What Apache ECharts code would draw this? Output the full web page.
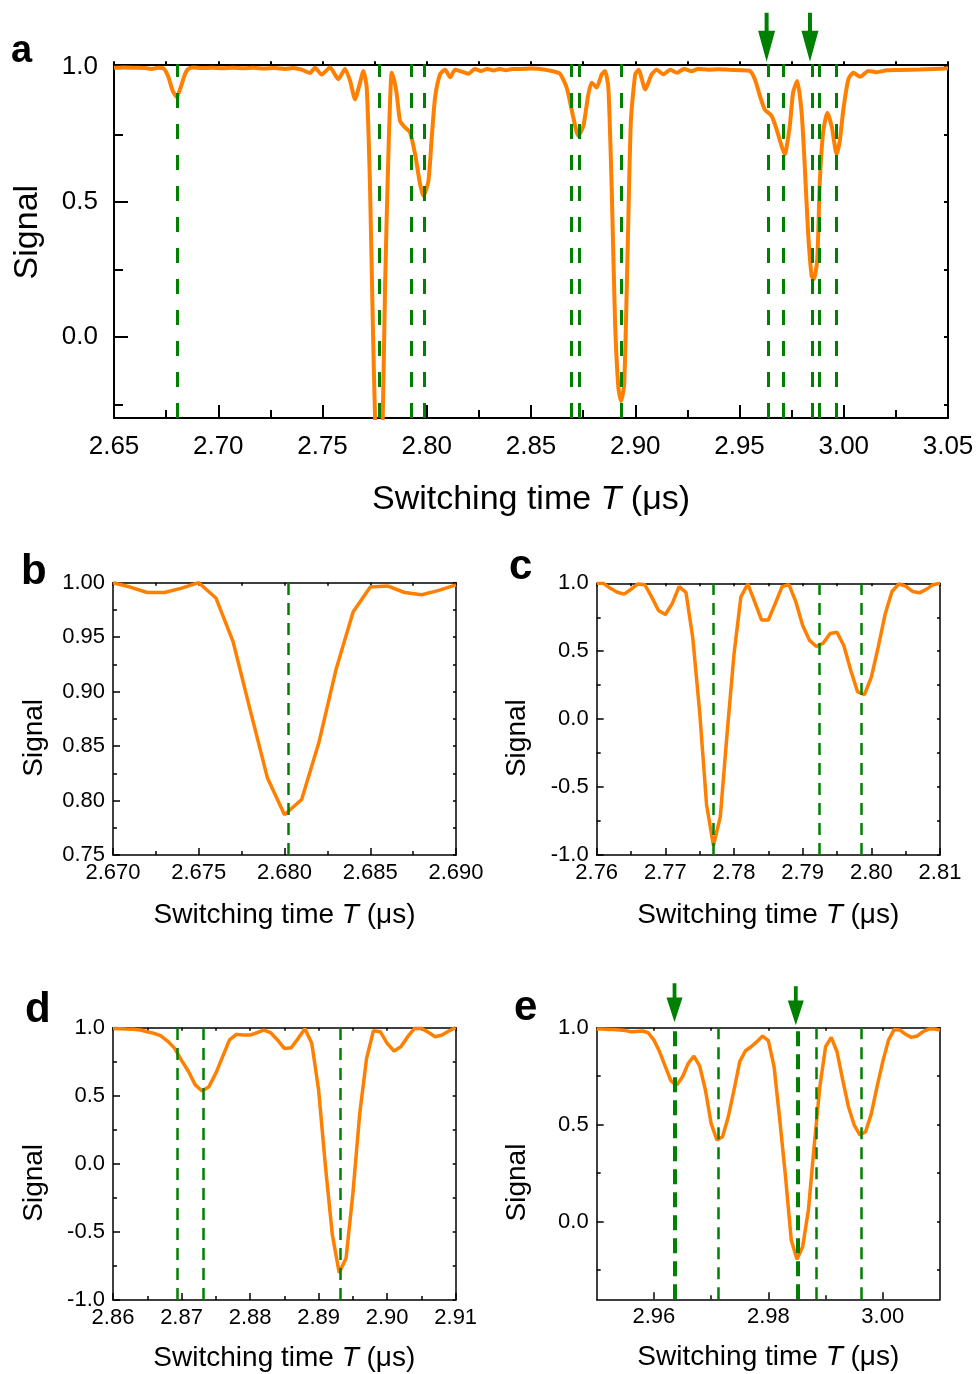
<!DOCTYPE html>
<html><head><meta charset="utf-8">
<script src="https://cdn.jsdelivr.net/npm/echarts@6/dist/echarts.min.js"></script>
<style>html,body{margin:0;padding:0;background:#fff}#chart{width:977px;height:1374px}</style>
</head><body><div id="chart"></div>
<script>
// ---------------- DATA ----------------
// Panel a (overview scan)
const aTime = [2.650, 2.655, 2.660, 2.665, 2.668, 2.671, 2.6737, 2.676, 2.678, 2.6801, 2.682, 2.684, 2.6856, 2.688, 2.692, 2.697, 2.702, 2.707, 2.712, 2.717, 2.722, 2.727, 2.732, 2.736, 2.740, 2.744, 2.7464, 2.7496, 2.7536, 2.7576, 2.7608, 2.7632, 2.7656, 2.7676, 2.7696, 2.7712, 2.7728, 2.7741, 2.7752, 2.7765, 2.7778, 2.7789, 2.7800, 2.7816, 2.7832, 2.7844, 2.7856, 2.7872, 2.7896, 2.7920, 2.7944, 2.7968, 2.7984, 2.8008, 2.8024, 2.8040, 2.8064, 2.8088, 2.8112, 2.8136, 2.8160, 2.8200, 2.8230, 2.8260, 2.8290, 2.8320, 2.8350, 2.8380, 2.8410, 2.8450, 2.8500, 2.8543, 2.8600, 2.8639, 2.8671, 2.8703, 2.8727, 2.8751, 2.8775, 2.8791, 2.8815, 2.8839, 2.8855, 2.8871, 2.8887, 2.8903, 2.8919, 2.8932, 2.8947, 2.8963, 2.8979, 2.9000, 2.9016, 2.9048, 2.9079, 2.9103, 2.9135, 2.9168, 2.9200, 2.9235, 2.9270, 2.9300, 2.9350, 2.9400, 2.9450, 2.9502, 2.9550, 2.9574, 2.9598, 2.9621, 2.9654, 2.9678, 2.9702, 2.9717, 2.9741, 2.9757, 2.9777, 2.9798, 2.9813, 2.9829, 2.9846, 2.9857, 2.9873, 2.9885, 2.9901, 2.9921, 2.9942, 2.9966, 2.9982, 2.9998, 3.0022, 3.0046, 3.0078, 3.0118, 3.0158, 3.0206, 3.0270, 3.0366, 3.0430, 3.0500];
const aSignal = [0.997, 0.998, 0.997, 0.996, 0.993, 0.997, 0.995, 0.965, 0.915, 0.889, 0.925, 0.972, 0.993, 0.998, 0.996, 0.997, 0.995, 0.997, 0.995, 0.997, 0.994, 0.996, 0.993, 0.996, 0.990, 0.978, 0.997, 0.972, 0.998, 0.955, 0.993, 0.950, 0.880, 0.930, 0.985, 0.924, 0.554, 0.060, -0.300, -0.550, -0.550, -0.300, 0.184, 0.677, 0.979, 0.950, 0.900, 0.800, 0.776, 0.757, 0.677, 0.566, 0.522, 0.578, 0.739, 0.887, 0.973, 0.990, 0.962, 0.990, 0.985, 0.975, 0.993, 0.985, 0.993, 0.987, 0.993, 0.988, 0.993, 0.993, 0.994, 0.993, 0.985, 0.975, 0.924, 0.813, 0.744, 0.781, 0.899, 0.942, 0.924, 0.973, 0.985, 0.924, 0.553, 0.059, -0.187, -0.237, -0.175, 0.306, 0.800, 0.973, 0.990, 0.917, 0.973, 0.990, 0.973, 0.990, 0.979, 0.993, 0.984, 0.993, 0.990, 0.992, 0.990, 0.988, 0.985, 0.954, 0.893, 0.843, 0.819, 0.769, 0.707, 0.677, 0.781, 0.905, 0.948, 0.831, 0.633, 0.387, 0.226, 0.214, 0.288, 0.572, 0.757, 0.831, 0.781, 0.677, 0.732, 0.843, 0.954, 0.979, 0.964, 0.985, 0.981, 0.988, 0.989, 0.991, 0.993, 0.995];

// Panel b
const bTime = [2.670, 2.671, 2.672, 2.673, 2.674, 2.675, 2.676, 2.677, 2.678, 2.679, 2.680, 2.681, 2.682, 2.683, 2.684, 2.685, 2.686, 2.687, 2.688, 2.689, 2.690];
const bSignal = [1.000, 0.996, 0.991, 0.991, 0.995, 1.000, 0.986, 0.946, 0.883, 0.821, 0.787, 0.801, 0.853, 0.920, 0.973, 0.996, 0.997, 0.991, 0.989, 0.993, 0.998];

// Panel c
const cTime = [2.760, 2.761, 2.762, 2.763, 2.764, 2.765, 2.766, 2.767, 2.768, 2.769, 2.770, 2.771, 2.772, 2.773, 2.774, 2.775, 2.776, 2.777, 2.778, 2.779, 2.780, 2.781, 2.782, 2.783, 2.784, 2.785, 2.786, 2.787, 2.788, 2.789, 2.790, 2.791, 2.792, 2.793, 2.794, 2.795, 2.796, 2.797, 2.798, 2.799, 2.800, 2.801, 2.802, 2.803, 2.804, 2.805, 2.806, 2.807, 2.808, 2.809, 2.810];
const cSignal = [1.0, 1.0, 0.963, 0.934, 0.92, 0.956, 0.995, 0.99, 0.90, 0.80, 0.77, 0.85, 0.975, 0.934, 0.595, 0.05, -0.63, -0.93, -0.72, -0.10, 0.48, 0.90, 0.995, 0.865, 0.73, 0.73, 0.85, 0.975, 0.99, 0.865, 0.69, 0.58, 0.535, 0.56, 0.63, 0.64, 0.54, 0.36, 0.20, 0.18, 0.31, 0.53, 0.77, 0.94, 0.995, 0.98, 0.94, 0.93, 0.955, 0.99, 1.0];

// Panel d
const dTime = [2.860, 2.861, 2.862, 2.863, 2.864, 2.865, 2.866, 2.867, 2.868, 2.869, 2.870, 2.871, 2.872, 2.873, 2.874, 2.875, 2.876, 2.877, 2.878, 2.879, 2.880, 2.881, 2.882, 2.883, 2.884, 2.885, 2.886, 2.887, 2.888, 2.889, 2.890, 2.891, 2.892, 2.893, 2.894, 2.895, 2.896, 2.897, 2.898, 2.899, 2.900, 2.901, 2.902, 2.903, 2.904, 2.905, 2.906, 2.907, 2.908, 2.909, 2.910];
const dSignal = [0.995, 0.993, 0.99, 0.988, 0.983, 0.97, 0.958, 0.94, 0.90, 0.848, 0.76, 0.68, 0.58, 0.535, 0.567, 0.665, 0.787, 0.91, 0.951, 0.946, 0.946, 0.963, 0.983, 0.963, 0.91, 0.848, 0.853, 0.92, 0.993, 0.885, 0.542, -0.02, -0.52, -0.80, -0.694, -0.217, 0.371, 0.775, 0.978, 0.971, 0.885, 0.829, 0.86, 0.934, 0.995, 0.995, 0.966, 0.934, 0.946, 0.976, 1.0];

// Panel e
const eTime = [2.950, 2.951, 2.952, 2.953, 2.954, 2.955, 2.956, 2.957, 2.958, 2.959, 2.960, 2.961, 2.962, 2.963, 2.964, 2.965, 2.966, 2.967, 2.968, 2.969, 2.970, 2.971, 2.972, 2.973, 2.974, 2.975, 2.976, 2.977, 2.978, 2.979, 2.980, 2.981, 2.982, 2.983, 2.984, 2.985, 2.986, 2.987, 2.988, 2.989, 2.990, 2.991, 2.992, 2.993, 2.994, 2.995, 2.996, 2.997, 2.998, 2.999, 3.000, 3.001, 3.002, 3.003, 3.004, 3.005, 3.006, 3.007, 3.008, 3.009, 3.010];
const eSignal = [0.993, 0.993, 0.991, 0.991, 0.988, 0.985, 0.979, 0.981, 0.983, 0.974, 0.936, 0.876, 0.799, 0.725, 0.704, 0.747, 0.816, 0.854, 0.802, 0.679, 0.507, 0.421, 0.438, 0.541, 0.679, 0.825, 0.881, 0.902, 0.928, 0.957, 0.933, 0.799, 0.524, 0.232, -0.094, -0.194, -0.129, 0.06, 0.387, 0.696, 0.902, 0.95, 0.876, 0.73, 0.593, 0.498, 0.447, 0.464, 0.557, 0.696, 0.825, 0.936, 0.991, 0.988, 0.966, 0.95, 0.957, 0.979, 0.993, 0.993, 0.988];

// Green dashed marker positions (µs)
const markersA = [2.6802, 2.7770, 2.7924, 2.7986, 2.8694, 2.8731, 2.8931, 2.9636, 2.9712, 2.9851, 2.9884, 2.9963];
const markersB = [2.6802];
const markersC = [2.7770, 2.7924, 2.7986];
const markersD = [2.8694, 2.8731, 2.8931];
const markersE = [2.9636, 2.9712, 2.9851, 2.9884, 2.9963];
const boldE = [2.9636, 2.9851];
// Arrow positions (µs)
const arrowsA = [2.9630, 2.9838];
const arrowsE = [2.9636, 2.9848];

// Custom tick values
const aYTicks = [0, 0.5, 1.0];
const aYMinor = [-0.25, 0.25, 0.75];
const eYTicks = [0, 0.5, 1.0];
const eYMinor = [-0.25, 0.25, 0.75];
const eXTicks = [2.96, 2.98, 3.00];
const eXMinor = [2.97, 2.99];

// ---------------- STYLE / BUILD ----------------
const FONT = "'Liberation Sans', Arial, Helvetica, sans-serif";
const BLACK = '#000';
const ORANGE = '#ff7f00';
const GREEN = '#008000';
const XNAME = '{n|Switching time }{i|T}{n| (\u03bcs)}';
const ARROW = 'path://M6.5,0 L10.5,0 L10.5,18 L17,18 L8.5,49 L0,18 L6.5,18 Z';
const HIDDEN_LINE = { show: false, onZero: false };

function fmt(d) { return v => (Math.abs(v) < 1e-9 ? 0 : v).toFixed(d); }
function zip(t, s) { return t.map((x, i) => [x, s[i]]); }

function base(g, pos, min, max, lw) {
  return {
    type: 'value', gridIndex: g, position: pos, min: min, max: max,
    axisLine: { show: true, onZero: false, lineStyle: { color: BLACK, width: lw } },
    splitLine: { show: false }, minorSplitLine: { show: false },
    nameMoveOverlap: false
  };
}
function tick(len, lw, inside, custom) {
  const t = { show: true, inside: inside, length: len, lineStyle: { color: BLACK, width: lw } };
  if (custom) t.customValues = custom;
  return t;
}
function minor(len, lw) {
  return { show: true, splitNumber: 2, length: len, lineStyle: { color: BLACK, width: lw } };
}
function label(fs, margin, dec, custom) {
  const l = { show: true, fontSize: fs, margin: margin, color: BLACK, fontFamily: FONT, formatter: fmt(dec) };
  if (custom) l.customValues = custom;
  return l;
}
function xNameStyle(fs) {
  return { fontSize: fs, color: BLACK, fontFamily: FONT,
    rich: { n: { fontSize: fs, color: BLACK, fontFamily: FONT },
            i: { fontSize: fs, color: BLACK, fontFamily: FONT, fontStyle: 'italic' } } };
}

const grids = [
  { left: 114, top: 64.3, width: 834, height: 353.7 },
  { left: 113, top: 582.7, width: 343, height: 272.3 },
  { left: 596.7, top: 583.3, width: 343.3, height: 271.7 },
  { left: 113, top: 1027.7, width: 342.7, height: 272.3 },
  { left: 596.7, top: 1027.7, width: 343.3, height: 271.6 }
].map(g => Object.assign({ outerBoundsMode: 'none', containLabel: false }, g));

const xAxes = [], yAxes = [], series = [];

function addStandardPanel(g, xr, yr, xdec, ydec, t, s, markers, opt) {
  const xi = xAxes.length;
  xAxes.push(Object.assign(base(g, 'bottom', xr[0], xr[1], opt.lw), {
    interval: xr[2],
    axisTick: tick(opt.tick, opt.lw, true), minorTick: minor(opt.minor, opt.lw),
    axisLabel: label(opt.fs, opt.xMargin, xdec),
    name: XNAME, nameLocation: 'middle', nameGap: opt.xNameGap, nameTextStyle: xNameStyle(opt.nameFs)
  }));
  xAxes.push(Object.assign(base(g, 'top', xr[0], xr[1], opt.lw), {
    interval: xr[2],
    axisTick: tick(opt.topTick, opt.lw, opt.topInside), minorTick: minor(opt.topTick, opt.lw),
    axisLabel: { show: false }
  }));
  const yi = yAxes.length;
  yAxes.push(Object.assign(base(g, 'left', yr[0], yr[1], opt.lw), {
    interval: yr[2],
    axisTick: tick(opt.tick, opt.lw, true), minorTick: minor(opt.minor, opt.lw),
    axisLabel: label(opt.fs, opt.yMargin, ydec),
    name: 'Signal', nameLocation: 'middle', nameGap: opt.yNameGap,
    nameTextStyle: { fontSize: opt.nameFs, color: BLACK, fontFamily: FONT, padding: opt.yNamePad }
  }));
  yAxes.push(Object.assign(base(g, 'right', yr[0], yr[1], opt.lw), {
    interval: yr[2],
    axisTick: tick(3, opt.lw, true), minorTick: minor(3, opt.lw),
    axisLabel: { show: false }
  }));
  series.push(lineSeries(xi, yi, t, s, markers, opt));
}

function lineSeries(xi, yi, t, s, markers, opt) {
  return {
    type: 'line', xAxisIndex: xi, yAxisIndex: yi, data: zip(t, s),
    showSymbol: false, symbol: 'none', smooth: opt.smooth || false,
    lineStyle: { color: ORANGE, width: opt.lineW }, z: 2,
    markLine: {
      silent: true, symbol: ['none', 'none'], label: { show: false }, z: 5, precision: 6,
      lineStyle: { color: GREEN, width: opt.dashW, type: opt.dash, opacity: 1 },
      emphasis: { disabled: true },
      data: markers.map(v => opt.bold && opt.bold.indexOf(v) >= 0
        ? { xAxis: v, lineStyle: { color: GREEN, width: 4, type: [15, 8] } }
        : { xAxis: v })
    },
    markPoint: opt.arrows ? {
      silent: true, symbol: ARROW, symbolSize: opt.arrowSize, z: 6, precision: 6,
      itemStyle: { color: GREEN }, label: { show: false },
      data: opt.arrows.map((v, i) => ({ coord: [v, opt.arrowY], symbolOffset: [0, opt.arrowOff[i]] }))
    } : undefined
  };
}

// ---- Panel a ----
(function () {
  const g = 0, lw = 2;
  const xi = xAxes.length;
  xAxes.push(Object.assign(base(g, 'bottom', 2.65, 3.05, lw), {
    interval: 0.05,
    axisTick: tick(13, lw, true), minorTick: minor(8, lw),
    axisLabel: label(26, 16, 2),
    name: XNAME, nameLocation: 'middle', nameGap: 65, nameTextStyle: xNameStyle(34)
  }));
  xAxes.push(Object.assign(base(g, 'top', 2.65, 3.05, lw), {
    interval: 0.05,
    axisTick: tick(3, lw, false), minorTick: minor(3, lw),
    axisLabel: { show: false }
  }));
  const yi = yAxes.length;
  yAxes.push(Object.assign(base(g, 'left', -0.3, 1.01, lw), {
    axisTick: tick(14, lw, true, aYTicks),
    axisLabel: label(26, 16, 1, aYTicks),
    name: 'Signal', nameLocation: 'middle', nameGap: 69,
    nameTextStyle: { fontSize: 34, color: BLACK, fontFamily: FONT, padding: [0, 0, 0, 18] }
  }));
  yAxes.push(Object.assign(base(g, 'left', -0.3, 1.01, lw), {
    axisLine: HIDDEN_LINE,
    axisTick: tick(9, lw, true, aYMinor), axisLabel: { show: false }
  }));
  yAxes.push(Object.assign(base(g, 'right', -0.3, 1.01, lw), {
    axisTick: tick(4, lw, true, aYTicks.concat(aYMinor)), axisLabel: { show: false }
  }));
  series.push(lineSeries(xi, yi, aTime, aSignal, markersA, {
    lineW: 4, smooth: 0.2, dashW: 3, dash: [15, 16],
    arrows: arrowsA, arrowY: 1.01, arrowSize: [17, 49], arrowOff: [-27, -27]
  }));
})();

const small = { lw: 1.5, tick: 7, minor: 4, topTick: 3, topInside: true, fs: 22, xMargin: 7, yMargin: 8,
  nameFs: 28, xNameGap: 46, yNameGap: 65, yNamePad: [0, 38, 0, 0],
  lineW: 3.5, dashW: 2.5, dash: [12, 8] };

addStandardPanel(1, [2.670, 2.690, 0.005], [0.75, 1.00, 0.05], 3, 2, bTime, bSignal, markersB, small);
addStandardPanel(2, [2.76, 2.81, 0.01], [-1.0, 1.0, 0.5], 2, 1, cTime, cSignal, markersC, small);
addStandardPanel(3, [2.86, 2.91, 0.01], [-1.0, 1.0, 0.5], 2, 1, dTime, dSignal, markersD,
  Object.assign({}, small, { xNameGap: 44 }));

// ---- Panel e ----
(function () {
  const g = 4, o = small, lw = o.lw;
  const xi = xAxes.length;
  xAxes.push(Object.assign(base(g, 'bottom', 2.95, 3.01, lw), {
    axisTick: tick(o.tick, lw, true, eXTicks),
    axisLabel: label(o.fs, o.xMargin, 2, eXTicks),
    name: XNAME, nameLocation: 'middle', nameGap: 44, nameTextStyle: xNameStyle(o.nameFs)
  }));
  xAxes.push(Object.assign(base(g, 'bottom', 2.95, 3.01, lw), {
    axisLine: HIDDEN_LINE, axisTick: tick(o.minor, lw, true, eXMinor), axisLabel: { show: false }
  }));
  xAxes.push(Object.assign(base(g, 'top', 2.95, 3.01, lw), {
    axisTick: tick(3, lw, true, eXTicks.concat(eXMinor)), axisLabel: { show: false }
  }));
  const yi = yAxes.length;
  yAxes.push(Object.assign(base(g, 'left', -0.4, 1.0, lw), {
    axisTick: tick(o.tick, lw, true, eYTicks),
    axisLabel: label(o.fs, o.yMargin, 1, eYTicks),
    name: 'Signal', nameLocation: 'middle', nameGap: o.yNameGap,
    nameTextStyle: { fontSize: o.nameFs, color: BLACK, fontFamily: FONT, padding: o.yNamePad }
  }));
  yAxes.push(Object.assign(base(g, 'left', -0.4, 1.0, lw), {
    axisLine: HIDDEN_LINE, axisTick: tick(o.minor, lw, true, eYMinor), axisLabel: { show: false }
  }));
  yAxes.push(Object.assign(base(g, 'right', -0.4, 1.0, lw), {
    axisTick: tick(3, lw, true, eYTicks.concat(eYMinor)), axisLabel: { show: false }
  }));
  series.push(lineSeries(xi, yi, eTime, eSignal, markersE, Object.assign({}, o, {
    bold: boldE, arrows: arrowsE, arrowY: 1.0, arrowSize: [16, 39], arrowOff: [-25, -22]
  })));
})();

function letter(txt, x, y, fs) {
  return { type: 'text', x: x, y: y, silent: true,
    style: { text: txt, fill: BLACK, fontSize: fs, fontWeight: 'bold', fontFamily: FONT, verticalAlign: 'middle', align: 'left' } };
}

const chart = echarts.init(document.getElementById('chart'), null, { renderer: 'canvas' });
chart.setOption({
  animation: false,
  backgroundColor: '#fff',
  grid: grids,
  xAxis: xAxes,
  yAxis: yAxes,
  series: series,
  graphic: [
    letter('a', 11, 51.8, 38),
    letter('b', 21, 572.4, 42),
    letter('c', 509, 567.4, 42),
    letter('d', 25, 1010.4, 42),
    letter('e', 514, 1008.4, 42)
  ]
});
</script>
</body></html>
